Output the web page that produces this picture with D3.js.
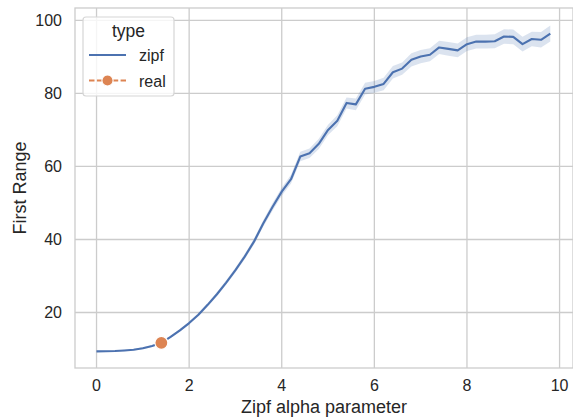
<!DOCTYPE html>
<html><head><meta charset="utf-8">
<script src="https://cdn.jsdelivr.net/npm/d3@7"></script>
<style>body{margin:0;background:#fff} svg{display:block;font-family:"Liberation Sans",Arial,sans-serif}</style>
</head><body><svg id="c" width="573" height="419"></svg>
<script>
const alphaValues = [0.0,0.2,0.4,0.6,0.8,1.0,1.2,1.4,1.6,1.8,2.0,2.2,2.4,2.6,2.8,3.0,3.2,3.4,3.6,3.8,
  4.0,4.2,4.4,4.6,4.8,5.0,5.2,5.4,5.6,5.8,6.0,6.2,6.4,6.6,6.8,7.0,7.2,7.4,7.6,7.8,
  8.0,8.2,8.4,8.6,8.8,9.0,9.2,9.4,9.6,9.8];
const zipfRange = [9.36,9.4,9.45,9.6,9.8,10.2,10.8,11.7,13.3,15.1,17.1,19.4,22.1,25.0,28.2,31.6,35.3,39.4,44.4,48.9,
  53.1,56.5,62.7,63.6,66.2,70.0,72.5,77.4,77.0,81.3,81.8,82.6,85.8,86.8,89.2,90.1,90.6,92.6,92.2,91.8,
  93.5,94.2,94.2,94.3,95.6,95.5,93.5,94.9,94.7,96.4];
const zipfCIHalf = [0.15,0.15,0.15,0.2,0.2,0.25,0.25,0.3,0.3,0.35,0.4,0.45,0.5,0.55,0.6,0.65,0.7,0.8,0.9,1.0,
  1.1,1.2,1.3,1.3,1.4,1.4,1.5,1.5,1.6,1.6,1.6,1.7,1.7,1.7,1.8,1.8,1.8,1.8,1.9,1.9,
  1.9,1.9,1.9,1.9,2.0,2.0,2.0,2.0,2.1,2.2];
const realAlpha = [1.4];
const realRange = [11.7];
const xTicks = [0,2,4,6,8,10];
const yTicks = [20,40,60,80,100];
const legendTitle = "type";
const legendLabels = ["zipf","real"];

const BLUE = "#4c72b0", ORANGE = "#dd8452", GRID = "#cccccc";
const svg = d3.select("#c");
const x = d3.scaleLinear().domain([-0.465,10.29]).range([75,573]);
const y = d3.scaleLinear().domain([4.8,103.4]).range([368,8]);
const [x0,x1] = x.range(), [y0,y1] = y.range();

// grid
svg.append("g").selectAll("line").data(xTicks).join("line")
  .attr("x1",d=>x(d)).attr("x2",d=>x(d)).attr("y1",y1).attr("y2",y0)
  .attr("stroke",GRID).attr("stroke-width",1.3);
svg.append("g").selectAll("line").data(yTicks).join("line")
  .attr("x1",x0).attr("x2",x1).attr("y1",d=>y(d)).attr("y2",d=>y(d))
  .attr("stroke",GRID).attr("stroke-width",1.3);
// spines
svg.append("rect").attr("x",x0).attr("y",y1).attr("width",x1-x0).attr("height",y0-y1)
  .attr("fill","none").attr("stroke",GRID).attr("stroke-width",1.3);

// tick labels
svg.append("g").selectAll("text").data(xTicks).join("text")
  .attr("x",d=>x(d)).attr("y",391).attr("text-anchor","middle")
  .attr("font-size",16).attr("fill","#262626").text(d=>d);
svg.append("g").selectAll("text").data(yTicks).join("text")
  .attr("x",62).attr("y",d=>y(d)).attr("dy","0.35em").attr("text-anchor","end")
  .attr("font-size",16).attr("fill","#262626").text(d=>d);

// axis labels
svg.append("text").attr("x",(x0+x1)/2).attr("y",413).attr("text-anchor","middle")
  .attr("font-size",18).attr("fill","#262626").text("Zipf alpha parameter");
svg.append("text").attr("transform",`translate(26,${(y0+y1)/2}) rotate(-90)`)
  .attr("text-anchor","middle").attr("font-size",18).attr("fill","#262626").text("First Range");

// data
const pts = alphaValues.map((a,i)=>({a, v:zipfRange[i], h:zipfCIHalf[i]}));
svg.append("path").datum(pts)
  .attr("d", d3.area().x(d=>x(d.a)).y0(d=>y(d.v-d.h)).y1(d=>y(d.v+d.h)))
  .attr("fill",BLUE).attr("fill-opacity",0.2);
svg.append("path").datum(pts)
  .attr("d", d3.line().x(d=>x(d.a)).y(d=>y(d.v)))
  .attr("fill","none").attr("stroke",BLUE).attr("stroke-width",2.1).attr("stroke-linejoin","round");
svg.append("g").selectAll("circle").data(realAlpha.map((a,i)=>({a,v:realRange[i]}))).join("circle")
  .attr("cx",d=>x(d.a)).attr("cy",d=>y(d.v)).attr("r",6.5)
  .attr("fill",ORANGE).attr("stroke","#fff").attr("stroke-width",1.2);

// legend
const lg = svg.append("g");
lg.append("rect").attr("x",83).attr("y",17).attr("width",91).attr("height",79).attr("rx",3)
  .attr("fill","#fff").attr("fill-opacity",0.8).attr("stroke","#d6d6d6").attr("stroke-width",1.2);
lg.append("text").attr("x",128.5).attr("y",37).attr("text-anchor","middle")
  .attr("font-size",17.5).attr("fill","#262626").text(legendTitle);
lg.append("line").attr("x1",89).attr("x2",126).attr("y1",55).attr("y2",55)
  .attr("stroke",BLUE).attr("stroke-width",2.1);
lg.append("line").attr("x1",89).attr("x2",126).attr("y1",80.5).attr("y2",80.5)
  .attr("stroke",ORANGE).attr("stroke-width",2.1).attr("stroke-dasharray","5.5,2.4");
lg.append("circle").attr("cx",107.5).attr("cy",80.5).attr("r",5.6)
  .attr("fill",ORANGE).attr("stroke","#fff").attr("stroke-width",1.1);
lg.selectAll("text.l").data(legendLabels).join("text").attr("class","l")
  .attr("x",139).attr("y",(d,i)=>61+i*25.5).attr("font-size",16).attr("fill","#262626").text(d=>d);
</script></body></html>
